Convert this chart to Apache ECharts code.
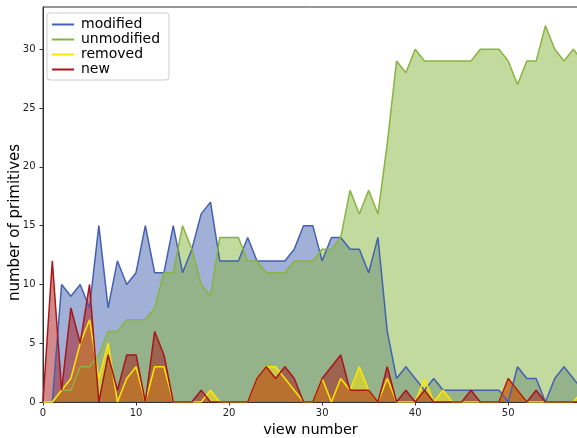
<!DOCTYPE html>
<html>
<head>
<meta charset="utf-8">
<script src="https://cdn.jsdelivr.net/npm/echarts@6/dist/echarts.min.js"></script>
<style>
html,body{margin:0;padding:0;background:#fff;}
#c{width:577px;height:438px;}
</style>
</head>
<body>
<div id="c"></div>
<script>
var viewNumbers = [];
for (var i = 0; i <= 58; i++) viewNumbers.push(i);

var modified = [0,0,10,9,10,8,15,8,12,10,11,15,11,11,15,11,13,16,17,12,
  12,12,14,12,12,12,12,13,15,15,12,14,14,13,13,11,14,6,2,3,
  2,1,2,1,1,1,1,1,1,1,0,3,2,2,0,2,3,2,1];
var unmodified = [0,0,1,1,3,3,4,6,6,7,7,7,8,11,11,15,13,10,9,14,
  14,14,12,12,11,11,11,12,12,12,13,13,14,18,16,18,16,22,29,28,
  30,29,29,29,29,29,29,30,30,30,29,27,29,29,32,30,29,30,29];
var removed = [0,0,1,2,5,7,2,5,0,2,3,0,3,3,0,0,0,0,1,0,
  0,0,0,2,3,3,2,1,0,0,2,0,2,1,3,1,0,2,0,0,
  0,2,0,1,0,0,0,0,0,0,2,1,0,0,0,0,0,0,1];
var added = [0,12,1,8,5,10,0,4,1,4,4,0,6,4,0,0,0,1,0,0,
  0,0,0,2,3,2,3,2,0,0,2,3,4,1,1,1,0,3,0,1,
  0,1,0,0,0,0,1,0,0,0,2,1,0,1,0,0,0,0,0];

var seriesNames = ['modified', 'unmodified', 'removed', 'new'];
var xTicks = [0, 10, 20, 30, 40, 50];
var yTicks = [0, 5, 10, 15, 20, 25, 30];

var lineColors = ['#4361b0', '#88b440', '#ffe600', '#a8161a'];
var fillColors = ['rgba(67,97,176,0.5)', 'rgba(136,182,64,0.5)', 'rgba(255,230,0,0.5)', 'rgba(168,22,26,0.5)'];
var dataSets = [modified, unmodified, removed, added];

function pairs(arr) {
  return arr.map(function (v, i) { return [viewNumbers[i], v]; });
}

var series = [];
dataSets.forEach(function (d, k) {
  series.push({
    name: seriesNames[k] + ' area',
    type: 'line',
    data: pairs(d),
    showSymbol: false,
    symbol: 'none',
    silent: true,
    z: 2,
    lineStyle: { width: 0, color: lineColors[k] },
    itemStyle: { color: lineColors[k] },
    areaStyle: { color: fillColors[k], origin: 'start', opacity: 1 },
    animation: false
  });
});
dataSets.forEach(function (d, k) {
  series.push({
    name: seriesNames[k],
    type: 'line',
    data: pairs(d),
    showSymbol: false,
    symbol: 'none',
    z: 3,
    lineStyle: { width: 1.5, color: lineColors[k] },
    itemStyle: { color: lineColors[k] },
    animation: false
  });
});

var chart = echarts.init(document.getElementById('c'), null, { renderer: 'canvas' });
chart.setOption({
  animation: false,
  backgroundColor: '#fff',
  textStyle: { fontFamily: 'DejaVu Sans' },
  grid: { left: 43, right: -1, top: 7, bottom: 36, outerBoundsMode: 'none', containLabel: false,
    show: true, borderColor: '#333', borderWidth: 1, backgroundColor: 'transparent' },
  legend: {
    data: seriesNames,
    orient: 'vertical',
    left: 47, top: 13,
    padding: [4, 9, 3, 5],
    itemGap: 0,
    itemWidth: 22,
    itemHeight: 2,
    icon: 'rect',
    backgroundColor: 'rgba(255,255,255,0.85)',
    borderColor: '#cccccc',
    borderWidth: 1,
    borderRadius: 3,
    textStyle: { fontSize: 14, lineHeight: 15, color: '#000', fontFamily: 'DejaVu Sans', padding: [0, 0, 0, 2] }
  },
  xAxis: {
    type: 'value',
    min: 0, max: 57.5,
    name: 'view number',
    nameLocation: 'middle',
    nameGap: 21,
    nameMoveOverlap: false,
    nameTextStyle: { fontSize: 14.5, color: '#000', fontFamily: 'DejaVu Sans' },
    splitLine: { show: false },
    axisLine: { show: true, lineStyle: { color: '#333', width: 1 } },
    axisTick: { show: true, length: 3.5, lineStyle: { color: '#333' }, customValues: xTicks },
    axisLabel: { fontSize: 10, color: '#222', margin: 6, customValues: xTicks, fontFamily: 'DejaVu Sans' }
  },
  yAxis: {
    type: 'value',
    min: 0, max: 33.6,
    name: 'number of primitives',
    nameLocation: 'middle',
    nameGap: 20,
    nameMoveOverlap: false,
    nameTextStyle: { fontSize: 15, color: '#000', fontFamily: 'DejaVu Sans', padding: [0, 36, 0, 0] },
    splitLine: { show: false },
    axisLine: { show: true, lineStyle: { color: '#333', width: 1 } },
    axisTick: { show: true, length: 3.5, lineStyle: { color: '#333' }, customValues: yTicks },
    axisLabel: { fontSize: 10, color: '#222', margin: 7.5, customValues: yTicks, fontFamily: 'DejaVu Sans' }
  },
  series: series
});
</script>
</body>
</html>
